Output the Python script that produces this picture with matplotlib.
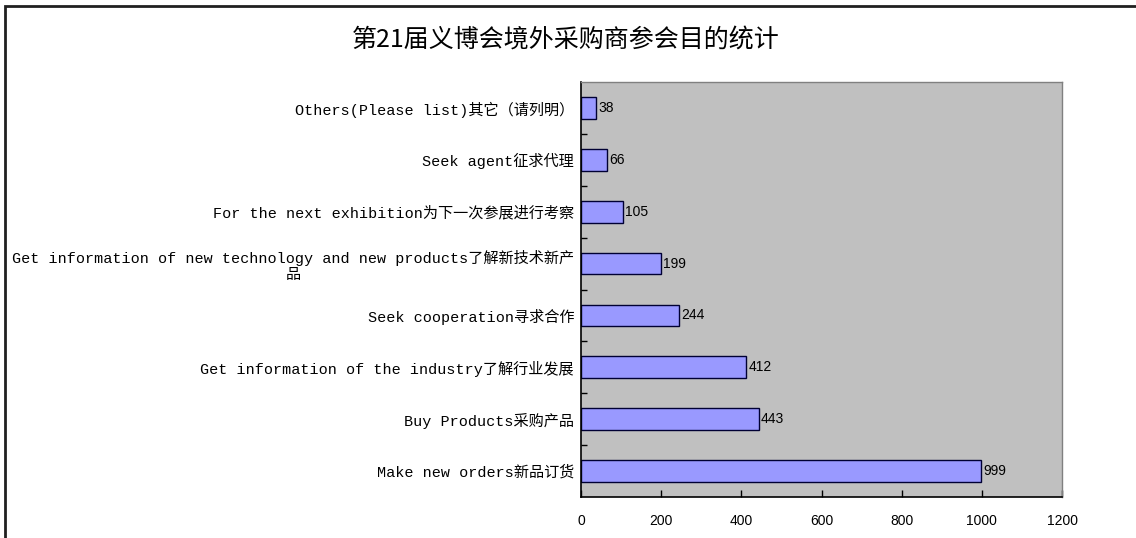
import matplotlib.pyplot as plt
from matplotlib.patches import Rectangle

# data (bottom to top)
categories = ['Make new orders新品订货',
              'Buy Products采购产品',
              'Get information of the industry了解行业发展',
              'Seek cooperation寻求合作',
              'Get information of new technology and new products了解新技术新产\n品',
              'For the next exhibition为下一次参展进行考察',
              'Seek agent征求代理',
              'Others(Please list)其它（请列明）']
counts = [999, 443, 412, 244, 199, 105, 66, 38]
xticks = [0, 200, 400, 600, 800, 1000, 1200]

title = '第21届义博会境外采购商参会目的统计'

label_font = ['Liberation Mono', 'Noto Sans CJK SC']
num_font = ['Liberation Sans', 'DejaVu Sans']

fig = plt.figure(figsize=(11.36, 5.38), dpi=100)
ax = fig.add_axes((581/1136, 1-497/538, (1062-581)/1136, (497-82)/538))
ax.set_facecolor('#C0C0C0')

ypos = list(range(len(categories)))
bars = ax.barh(ypos, counts, height=0.42, color='#9999FF',
               edgecolor='#000033', linewidth=1.0)

for y, v in zip(ypos, counts):
    ax.text(v + 5, y, str(v), va='center', ha='left',
            fontsize=10, family=num_font)

ax.set_xlim(0, 1200)
ax.set_ylim(-0.5, len(categories) - 0.5)
ax.set_xticks(xticks)
ax.set_xticklabels([str(t) for t in xticks], family=num_font, fontsize=10)
ax.set_yticks(ypos)
ax.set_yticklabels(categories, family=label_font, fontsize=10.9,
                   multialignment='center')
ax.set_yticks([y + 0.5 for y in ypos[:-1]], minor=True)

ax.tick_params(axis='y', which='major', length=0, pad=5)
ax.tick_params(axis='y', which='minor', direction='in', length=4, width=1)
ax.tick_params(axis='x', direction='in', length=5, width=1, pad=12)

for s in ['left', 'bottom']:
    ax.spines[s].set_color('black')
    ax.spines[s].set_linewidth(1.2)
for s in ['top', 'right']:
    ax.spines[s].set_color('#808080')
    ax.spines[s].set_linewidth(1.0)

fig.text(566/1136, 1-40/538, title, ha='center', va='center',
         fontsize=18, family=['Noto Sans CJK SC', 'DejaVu Sans'])

# outer chart border (only top and left visible)
fig.patches.append(Rectangle((5/1136, -0.1), 1.2, 1.1 - 6/538,
                             transform=fig.transFigure, fill=False,
                             edgecolor='#202020', linewidth=2))

fig.savefig('out.png', dpi=100)
